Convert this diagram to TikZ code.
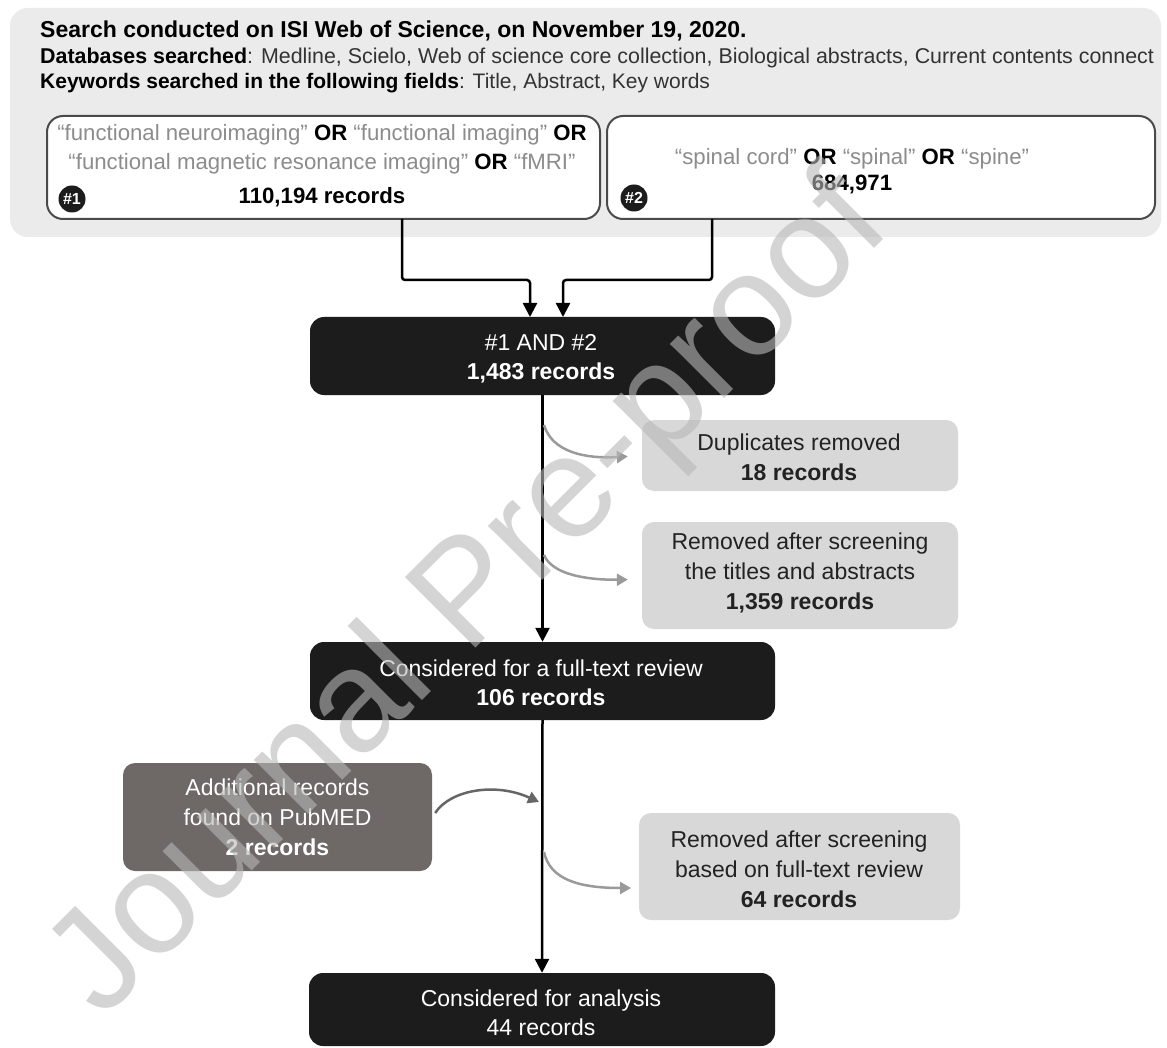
\documentclass[tikz,border=0pt]{standalone}
\usepackage{fontspec}
\setmainfont{Liberation Sans}
\usetikzlibrary{arrows.meta}
\definecolor{panel}{HTML}{EBEBEB}
\definecolor{boxedge}{HTML}{4A4A4A}
\definecolor{quotec}{HTML}{8C8C8C}
\definecolor{blk}{HTML}{1C1C1C}
\definecolor{lgbox}{HTML}{D9D8D8}
\definecolor{dgbox}{HTML}{6E6867}
\definecolor{curvc}{HTML}{9A9A9A}
\definecolor{dcurv}{HTML}{666666}
\definecolor{txt}{HTML}{222222}
\definecolor{hdrc}{HTML}{333333}
\definecolor{wmc}{HTML}{B8B8B8}
\tikzset{
  panelbox/.style={fill=panel, rounded corners=18pt, inner sep=0pt},
  kwbox/.style={draw=boxedge, line width=2pt, fill=white, rounded corners=16pt, inner sep=0pt},
  badge/.style={circle, fill=blk, text=white, minimum size=27pt, inner sep=0pt, font=\fontsize{16}{16}\selectfont\bfseries},
  blackbox/.style={fill=blk, rounded corners=14pt, inner sep=0pt},
  lightbox/.style={fill=lgbox, rounded corners=12pt, inner sep=0pt},
  darkbox/.style={fill=dgbox, rounded corners=12pt, inner sep=0pt},
  wtext/.style={text=white, inner sep=0pt, align=center, font=\fontsize{23}{29}\selectfont},
  btext/.style={text=txt, inner sep=0pt, align=center, font=\fontsize{23}{30}\selectfont},
  hdr/.style={anchor=west, inner sep=0pt, text=hdrc, font=\fontsize{21}{25}\selectfont},
  kwtext/.style={inner sep=0pt, align=center, text=black, font=\fontsize{22.2}{29}\selectfont},
  conn/.style={draw=black, line width=2.5pt, -{Triangle[width=14pt,length=14pt]}},
  gconn/.style={draw=curvc, line width=2.5pt, -{Triangle[width=12pt,length=11pt]}},
  dconn/.style={draw=dcurv, line width=2.5pt, -{Triangle[width=12pt,length=11pt]}},
}
\begin{document}
\begin{tikzpicture}[x=1pt,y=-1pt]
\useasboundingbox (0,0) rectangle (1167,1048);
\fill[white] (0,0) rectangle (1167,1048);

% search panel
\node[panelbox, minimum width=1151pt, minimum height=229pt] (panel) at (585.5,122.5) {};
\node[hdr, font=\fontsize{23}{25}\selectfont\bfseries, text=black] (h1) at (40,31) {Search conducted on ISI Web of Science, on November 19, 2020.};
\node[hdr, font=\fontsize{21.4}{25}\selectfont] (h2) at (40,58) {\textbf{\color{black}Databases searched}: Medline, Scielo, Web of science core collection, Biological abstracts, Current contents connect};
\node[hdr] (h3) at (40,83) {\textbf{\color{black}Keywords searched in the following fields}: Title, Abstract, Key words};

% keyword boxes
\node[kwbox, minimum width=553pt, minimum height=103pt] (k1) at (323.5,167.5) {};
\node[kwbox, minimum width=548pt, minimum height=103pt] (k2) at (881,167.5) {};
\node[kwtext] (k1t) at (322,166) {{\color{quotec}“functional neuroimaging”} \textbf{OR} {\color{quotec}“functional imaging”} \textbf{OR}\\
{\color{quotec}“functional magnetic resonance imaging”} \textbf{OR} {\color{quotec}“fMRI”}\\[5pt]
\textbf{110,194 records}};
\node[kwtext, font=\fontsize{22.2}{26}\selectfont] (k2t) at (852,171) {{\color{quotec}“spinal cord”} \textbf{OR} {\color{quotec}“spinal”} \textbf{OR} {\color{quotec}“spine”}\\
\textbf{684,971}};
\node[badge] (n1) at (72,199) {\#1};
\node[badge] (n2) at (634,198) {\#2};

% main flow boxes
\node[blackbox, minimum width=465pt, minimum height=78pt] (and) at (542.5,356) {};
\node[wtext] (andt) at (541,359) {\#1 AND \#2\\ \textbf{1,483 records}};
\node[lightbox, minimum width=316pt, minimum height=71pt] (dup) at (800,455.5) {};
\node[btext] (dupt) at (799,457.5) {Duplicates removed\\ \textbf{18 records}};
\node[lightbox, minimum width=316pt, minimum height=107pt] (rem1) at (800,575.5) {};
\node[btext] (rem1t) at (800,573) {Removed after screening\\ the titles and abstracts\\ \textbf{1,359 records}};
\node[blackbox, minimum width=465pt, minimum height=78pt] (rev) at (542.5,681) {};
\node[wtext] (revt) at (541,682.5) {Considered for a full-text review\\ \textbf{106 records}};
\node[darkbox, minimum width=309pt, minimum height=108pt] (add) at (277.5,817) {};
\node[btext, text=white] (addt) at (277.5,817.5) {Additional records\\ found on PubMED\\ \textbf{2 records}};
\node[lightbox, minimum width=321pt, minimum height=107pt] (rem2) at (799.5,866.5) {};
\node[btext] (rem2t) at (799,869) {Removed after screening\\ based on full-text review\\ \textbf{64 records}};
\node[blackbox, minimum width=466pt, minimum height=73pt] (ana) at (542,1009.5) {};
\node[wtext] (anat) at (541,1012.5) {Considered for analysis\\ 44 records};

% connectors from keyword boxes
\coordinate (o1) at (402,219);
\coordinate (o2) at (712,219);
\coordinate (j1) at (530,280);
\coordinate (j2) at (563,280);
\coordinate (i1) at (530,317);
\coordinate (i2) at (563,317);
\draw[conn, rounded corners=3pt] (o1) |- (j1) -- (i1);
\draw[conn, rounded corners=3pt] (o2) |- (j2) -- (i2);

% main line
\draw[conn] (and.south) -- (rev.north);
\draw[conn] (rev.south) -- (ana.north);

% side curves
\coordinate (s1) at (544,425);
\coordinate (s2) at (544,555);
\coordinate (s3) at (544,852);
\coordinate (e3) at (631,888);
\coordinate (m3) at (539,802);
\draw[gconn] (s1) .. controls (552,452) and (585,459) .. (dup.west) [shorten >=14pt];
\draw[gconn] (s2) .. controls (552,574) and (585,580) .. ([yshift=-4pt]rem1.west) [shorten >=14pt];
\draw[gconn] (s3) .. controls (550,880) and (580,888) .. (e3);
\draw[dconn] ([shift={(3pt,4pt)}]add.east) .. controls (450,790) and (495,782) .. (m3);

% watermark
\node[rotate=45, text=wmc, text opacity=0.6, inner sep=0pt, font=\fontsize{145}{145}\selectfont] (wm) at (472,598) {Journal Pre-proof};
\end{tikzpicture}
\end{document}
